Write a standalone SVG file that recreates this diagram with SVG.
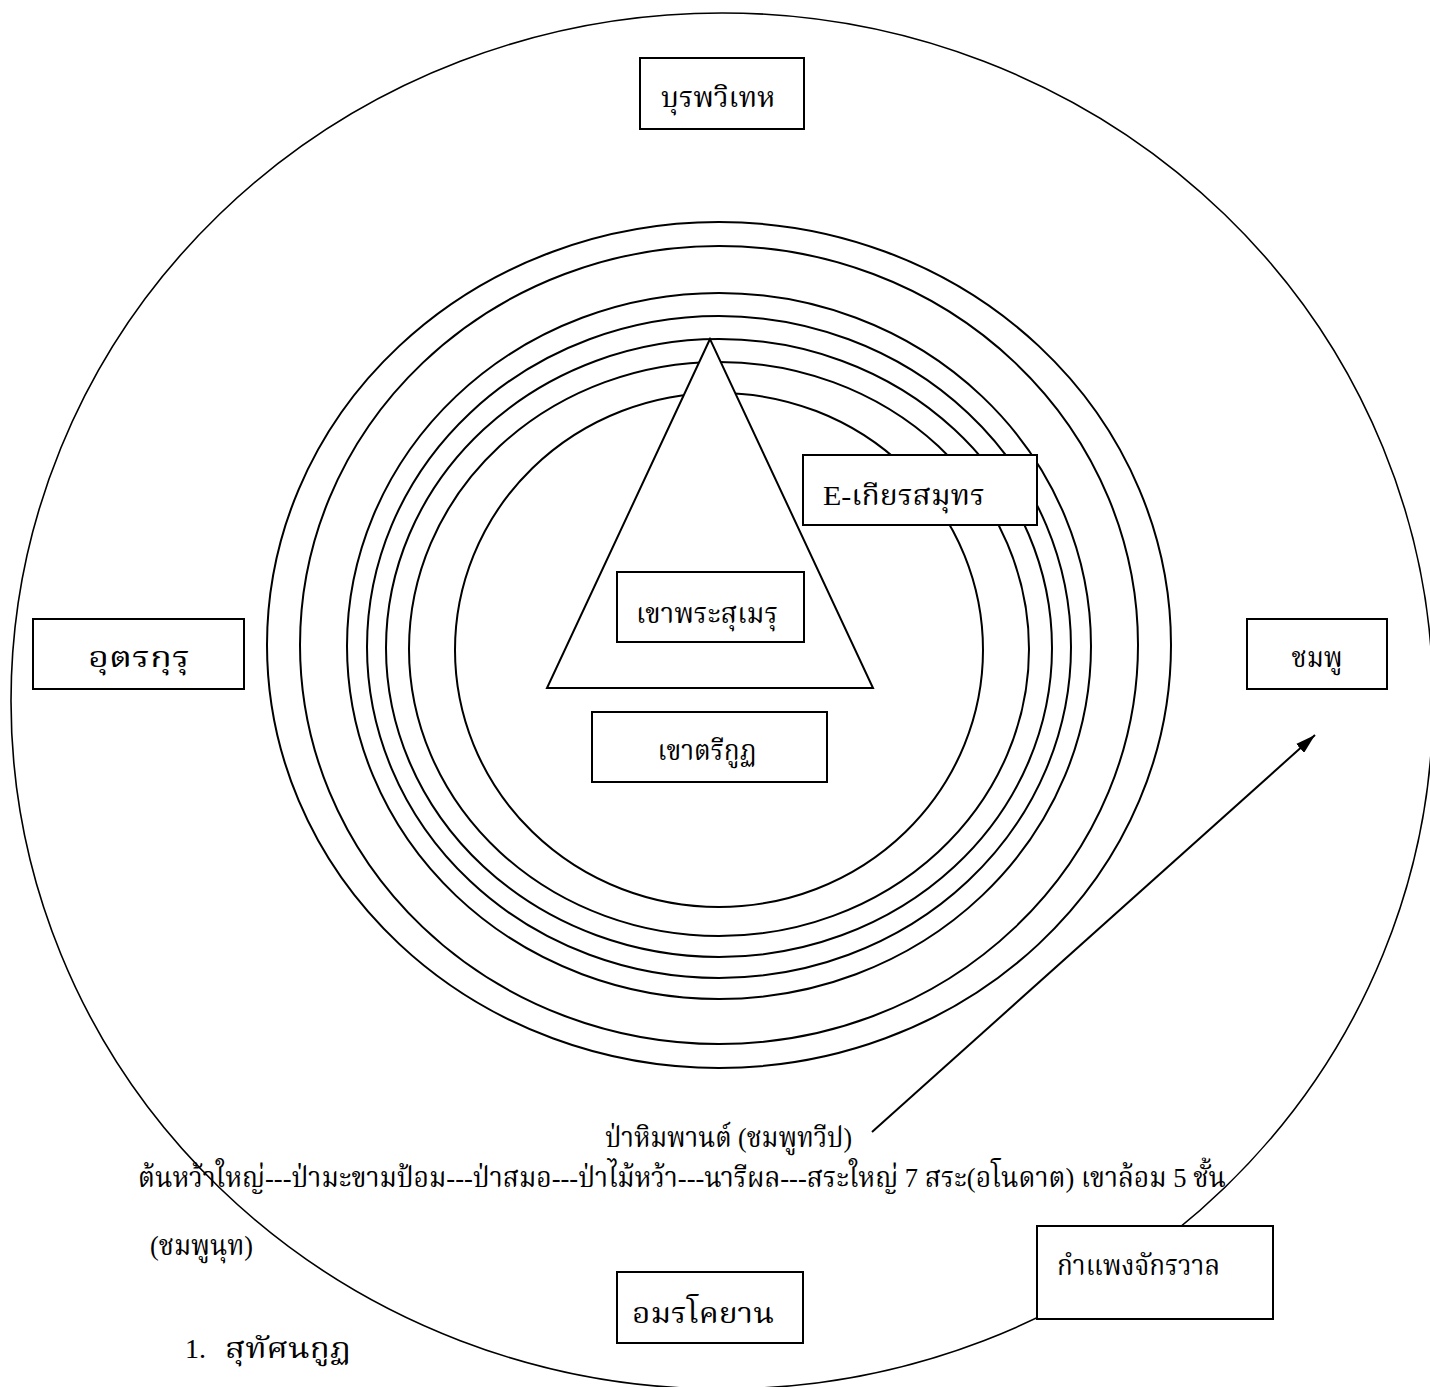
<svg xmlns="http://www.w3.org/2000/svg" width="1430" height="1387" viewBox="0 0 1430 1387">
<style>
.ring{fill:none;stroke:#000;stroke-width:2}
.outer{fill:none;stroke:#000;stroke-width:1.6}
.box{fill:#fff;stroke:#000;stroke-width:2}
.tri{fill:#fff;stroke:#000;stroke-width:2}
.t{font-family:"Liberation Serif","Norasi","Kinnari","Noto Serif Thai","Noto Sans Thai",serif;font-size:28px;fill:#000}
.c{text-anchor:middle}
.conn{fill:none;stroke:#000;stroke-width:2}
</style>
<defs>
<marker id="ah" viewBox="0 0 20 12" refX="20" refY="6" markerWidth="20" markerHeight="12" markerUnits="userSpaceOnUse" orient="auto">
<path d="M0,0 L20,6 L0,12 Z" fill="#000"/>
</marker>
</defs>
<rect width="1430" height="1387" fill="#fff"/>
<g id="outer-world">
<ellipse class="outer" cx="722" cy="701" rx="711" ry="688"/>
</g>
<g id="rings">
<ellipse class="ring" cx="719" cy="645" rx="452" ry="423"/>
<ellipse class="ring" cx="719" cy="645" rx="419" ry="399"/>
<ellipse class="ring" cx="719" cy="646" rx="372" ry="353"/>
<ellipse class="ring" cx="719" cy="647" rx="352" ry="331"/>
<ellipse class="ring" cx="719" cy="648" rx="333" ry="309"/>
<ellipse class="ring" cx="719" cy="649" rx="310" ry="287"/>
<ellipse class="ring" cx="719" cy="650" rx="264" ry="257"/>
</g>
<g id="mount-meru-triangle">
<polygon class="tri" points="710,339 547,688 873,688"/>
</g>
<g id="connectors">
<line class="conn" x1="872" y1="1132" x2="1315" y2="735" marker-end="url(#ah)"/>
</g>
<g id="node-burapavideha">
<rect class="box" x="640" y="58" width="164" height="71"/>
<text class="t c" x="718" y="107" textLength="114" lengthAdjust="spacingAndGlyphs">บุรพวิเทห</text>
</g>
<g id="node-uttarakuru">
<rect class="box" x="33" y="619" width="211" height="70"/>
<text class="t c" x="139" y="667" textLength="102" lengthAdjust="spacingAndGlyphs">อุตรกุรุ</text>
</g>
<g id="node-chomphu">
<rect class="box" x="1247" y="619" width="140" height="70"/>
<text class="t c" x="1317" y="667" textLength="51" lengthAdjust="spacingAndGlyphs">ชมพู</text>
</g>
<g id="node-sumeru">
<rect class="box" x="617" y="572" width="187" height="70"/>
<text class="t c" x="707" y="623" textLength="142" lengthAdjust="spacingAndGlyphs">เขาพระสุเมรุ</text>
</g>
<g id="node-trikut">
<rect class="box" x="592" y="712" width="235" height="70"/>
<text class="t c" x="707" y="760" textLength="99" lengthAdjust="spacingAndGlyphs">เขาตรีกูฏ</text>
</g>
<g id="node-ocean">
<rect class="box" x="803" y="455" width="234" height="70"/>
<text class="t" x="823" y="505" textLength="162" lengthAdjust="spacingAndGlyphs">E-เกียรสมุทร</text>
</g>
<g id="node-amarakoyana">
<rect class="box" x="617" y="1272" width="186" height="71"/>
<text class="t c" x="703" y="1323" textLength="142" lengthAdjust="spacingAndGlyphs">อมรโคยาน</text>
</g>
<g id="node-wall">
<rect class="box" x="1037" y="1226" width="236" height="93"/>
<text class="t" x="1057" y="1275" textLength="163" lengthAdjust="spacingAndGlyphs">กำแพงจักรวาล</text>
</g>
<g id="labels">
<text class="t" x="605" y="1147" textLength="247" lengthAdjust="spacingAndGlyphs">ป่าหิมพานต์ (ชมพูทวีป)</text>
<text class="t" x="138" y="1187" textLength="1088" lengthAdjust="spacingAndGlyphs">ต้นหว้าใหญ่---ป่ามะขามป้อม---ป่าสมอ---ป่าไม้หว้า---นารีผล---สระใหญ่ 7 สระ(อโนดาต) เขาล้อม 5 ชั้น</text>
<text class="t" x="150" y="1255" textLength="103" lengthAdjust="spacingAndGlyphs">(ชมพูนุท)</text>
<text class="t" x="185" y="1358">1.</text>
<text class="t" x="225" y="1358" textLength="126" lengthAdjust="spacingAndGlyphs">สุทัศนกูฏ</text>
</g>
</svg>
